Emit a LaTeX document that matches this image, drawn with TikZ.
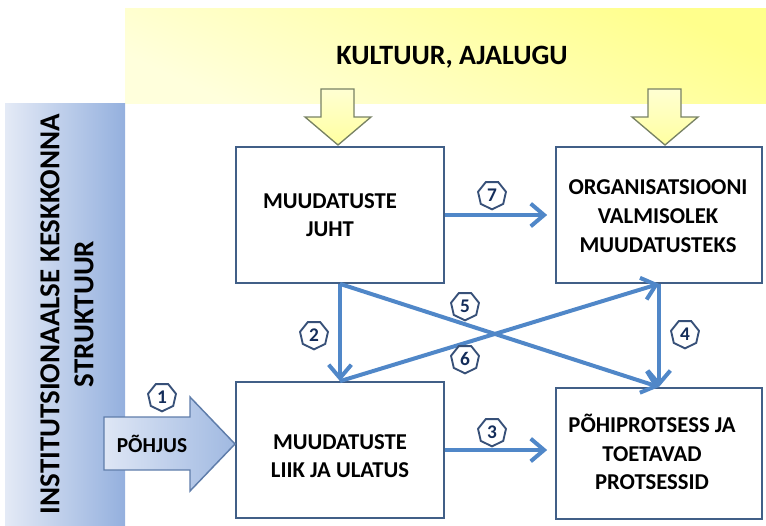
\documentclass[tikz,border=0pt]{standalone}
\usepackage{fontspec}
\setmainfont{Carlito}
\usetikzlibrary{arrows.meta,shapes.geometric}

\definecolor{boxline}{RGB}{65,95,135}
\definecolor{flow}{RGB}{80,135,200}
\definecolor{numline}{RGB}{55,80,120}
\definecolor{numtext}{RGB}{20,45,90}
\definecolor{yellowhi}{RGB}{255,255,140}
\definecolor{yellowlo}{RGB}{255,255,220}
\definecolor{bluehi}{RGB}{148,176,222}
\definecolor{bluelo}{RGB}{228,234,246}
\definecolor{arrowyel}{RGB}{255,255,160}
\definecolor{arrowyelpale}{RGB}{255,255,210}
\definecolor{arrowedge}{RGB}{120,130,100}
\definecolor{causeedge}{RGB}{95,125,170}
\definecolor{causehi}{RGB}{160,185,225}
\definecolor{causelo}{RGB}{222,230,245}

\tikzset{
  box/.style={draw=boxline, line width=1.3pt, fill=white, rectangle, inner sep=0pt},
  boxtext/.style={font=\bfseries\fontsize{17}{21.5}\selectfont, align=center, inner sep=0pt},
  flowline/.style={draw=flow, line width=3pt, -{Straight Barb[length=10pt,width=17pt,line width=3pt]}},
  num/.style={regular polygon, regular polygon sides=7, shape border rotate=180,
    draw=numline, line width=1.4pt, fill=white, minimum size=21.5pt, inner sep=0pt,
    text=numtext, font=\bfseries\fontsize{14.5}{15}\selectfont},
  yellowarrow/.style={draw=arrowedge, line width=1pt, top color=arrowyelpale, bottom color=arrowyel},
}

\begin{document}
\begin{tikzpicture}[x=0.75pt,y=-0.75pt]
\useasboundingbox (0,0) rectangle (766,525);

% culture band across the top
\shade[top color=yellowhi, bottom color=yellowlo, shading angle=-25]
  (125,8) rectangle (766,103);
\node[font=\bfseries\fontsize{21}{25}\selectfont, inner sep=0pt] (culture) at (452,57) {KULTUUR, AJALUGU};

% institutional structure band on the left
\shade[left color=bluelo, right color=bluehi] (5,103) rectangle (125,525);
\node[rotate=90, align=center, inner sep=0pt,
      font=\bfseries\fontsize{21.7}{25.5}\selectfont] (structure) at (67,314)
  {INSTITUTSIONAALSE KESKKONNA\\STRUKTUUR};

% main boxes
\node[box, minimum width=156pt, minimum height=102pt] (A) at (340,215) {};
\node[box, minimum width=154.5pt, minimum height=102pt] (B) at (659,215) {};
\node[box, minimum width=156pt, minimum height=102pt] (C) at (340,450) {};
\node[box, minimum width=154.5pt, minimum height=98.5pt] (D) at (659,453.5) {};

\node[boxtext] (Atext) at (330,215) {MUUDATUSTE\\JUHT};
\node[boxtext] (Btext) at (658,216) {ORGANISATSIOONI\\VALMISOLEK\\MUUDATUSTEKS};
\node[boxtext] (Ctext) at (340,456) {MUUDATUSTE\\LIIK JA ULATUS};
\node[boxtext] (Dtext) at (652,452) {PÕHIPROTSESS JA\\TOETAVAD\\PROTSESSID};

% yellow block arrows from the culture band
\path[yellowarrow] (321,89) -- (354,89) -- (354,117) -- (371,117) -- (338,145)
  -- (305,117) -- (321,117) -- cycle;
\path[yellowarrow] (648,89) -- (681,89) -- (681,117) -- (698,117) -- (665,145)
  -- (632,117) -- (648,117) -- cycle;

% cause block arrow into the change box
\path[draw=causeedge, line width=1.1pt, left color=causelo, right color=causehi]
  (104,417) -- (190,417) -- (190,397) -- (235,444) -- (190,491) -- (190,470)
  -- (104,470) -- cycle;
\node[font=\bfseries\fontsize{16}{18}\selectfont, inner sep=0pt] (cause) at (152,444) {PÕHJUS};

% connectors between the boxes
\draw[flowline, shorten >=6pt] (A.east) -- (B.west);
\draw[flowline, shorten >=6pt] (C.east) -- (C.east -| D.west);
\draw[flowline] (A.south) -- (C.north);
\draw[flowline] (B.south) -- (D.north);
\draw[flowline] (A.south) -- (D.north);
\draw[flowline] (C.north) -- (B.south);

% step numbers
\node[num] (n1) at (162,397) {1};
\node[num] (n2) at (314,335) {2};
\node[num] (n3) at (492,432) {3};
\node[num] (n4) at (685,334) {4};
\node[num] (n5) at (465,306) {5};
\node[num] (n6) at (465,359) {6};
\node[num] (n7) at (492,195) {7};
\end{tikzpicture}
\end{document}
